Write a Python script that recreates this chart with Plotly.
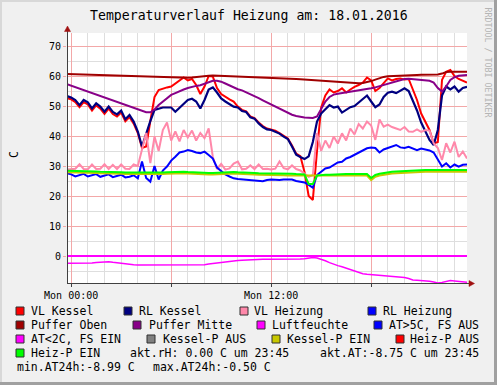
import plotly.graph_objects as go
import pandas as pd

# ---------------- data (15-minute samples, 17.01.2016 23:45 .. 18.01.2016 23:45) -------------
TIMES = pd.date_range("2016-01-17 23:45", periods=97, freq="15min")

VL_KESSEL = [
    52.6, 52.2, 51.3, 49.6, 51.3, 50.5, 48.5, 50.2, 49.1, 47.4,
    49.1, 47.3, 46.5, 47.8, 44.9, 46.3, 44.1, 41.0, 36.0, 36.5,
    45.0, 53.0, 55.3, 55.8, 56.2, 56.5, 57.5, 58.5, 59.5, 58.5,
    59.0, 57.0, 54.0, 56.5, 60.0, 59.8, 56.0, 54.0, 53.0, 52.2,
    51.5, 49.8, 48.7, 48.2, 46.5, 46.0, 44.5, 43.3, 42.5, 42.2,
    41.8, 41.0, 40.1, 39.2, 36.8, 34.1, 33.3, 28.0, 20.0, 18.7,
    35.0, 49.5, 53.5, 55.5, 54.5, 55.0, 55.9, 54.5, 55.5, 56.4,
    57.0, 57.8, 59.5, 58.5, 55.0, 56.0, 57.6, 59.2, 58.5, 59.0,
    59.2, 58.8, 59.0, 55.5, 52.0, 47.5, 44.5, 42.0, 37.5, 38.0,
    58.7, 61.4, 62.0, 60.0, 59.0, 58.3, 57.8,
]
RL_KESSEL = [
    53.3, 52.8, 52.0, 50.3, 52.0, 51.2, 49.2, 50.9, 49.8, 48.1,
    49.8, 48.0, 47.2, 48.5, 45.6, 47.0, 44.8, 41.5, 36.5, 41.0,
    45.0, 48.7, 49.2, 49.5, 49.5, 49.5, 48.1, 49.5, 50.9, 52.0,
    52.4, 51.5, 49.2, 52.0, 55.5, 56.2, 54.5, 52.5, 51.5, 50.7,
    49.8, 49.5, 48.3, 48.0, 46.2, 45.8, 44.2, 43.0, 42.2, 42.0,
    41.5, 40.8, 39.8, 39.0, 36.5, 33.8, 33.0, 32.3, 33.2, 38.0,
    44.8, 47.5, 48.9, 50.3, 49.5, 49.8, 47.8, 48.7, 49.6, 50.0,
    51.2, 52.3, 53.5, 51.5, 49.6, 50.5, 53.0, 54.4, 54.8, 54.3,
    55.2, 55.9, 55.0, 52.0, 48.5, 44.5, 41.5, 38.7, 37.0, 42.0,
    53.5, 56.5, 55.5, 56.5, 54.8, 56.0, 56.4,
]
VL_HEIZUNG = [
    28.8, 28.9, 29.1, 30.6, 29.0, 28.9, 30.5, 29.0, 29.1, 30.6,
    29.0, 30.4, 29.0, 30.5, 29.1, 29.0, 30.5, 30.0, 36.0, 41.0,
    31.0, 39.8, 35.0, 42.0, 44.5, 38.5, 41.5, 38.2, 42.0, 39.5,
    41.8, 38.5, 41.0, 39.3, 42.5, 33.0, 29.0, 30.7, 28.8, 29.2,
    30.8, 31.5, 28.9, 29.1, 30.2, 29.0, 30.5, 29.0, 29.1, 28.8,
    29.1, 31.5, 29.3, 28.9, 30.2, 29.0, 28.5, 27.5, 26.4, 27.0,
    41.0, 35.0, 38.5, 36.0, 39.8, 37.5, 40.9, 38.5, 42.5, 40.5,
    44.0, 42.5, 44.8, 43.5, 38.7, 45.5, 43.1, 43.8, 43.0, 42.5,
    42.0, 43.0, 41.5, 41.4, 42.2, 41.4, 42.0, 41.8, 37.6, 36.0,
    32.0, 37.6, 34.5, 38.1, 33.0, 34.8, 32.5,
]
RL_HEIZUNG = [
    27.6, 27.2, 26.5, 27.0, 27.4, 26.5, 26.8, 27.3, 26.4, 26.7,
    27.2, 26.3, 26.6, 27.1, 26.2, 26.4, 26.9, 25.9, 31.5, 26.0,
    24.8, 30.0, 25.5, 28.5, 29.8, 31.8, 33.1, 34.5, 34.8, 35.3,
    35.0, 34.5, 34.3, 34.8, 33.7, 32.5, 29.5, 28.2, 27.2, 26.5,
    25.9, 25.7, 25.6, 25.3, 25.4, 25.2, 25.0, 24.9, 25.3, 25.5,
    25.4, 25.3, 25.5, 25.6, 25.5, 25.0, 24.8, 24.5, 23.7, 22.8,
    27.0, 28.2, 29.2, 29.5, 30.3, 31.2, 31.4, 32.5, 33.0, 33.7,
    34.5, 35.0, 35.9, 36.2, 36.0, 34.5, 35.5, 36.0, 36.5, 37.0,
    36.2, 36.0, 36.4, 35.8, 35.3, 35.8, 35.5, 35.2, 34.5, 32.0,
    29.8, 30.9, 29.5, 30.5, 29.8, 30.4, 30.5,
]
PUFFER_OBEN = [
    60.7, 60.65, 60.6, 60.55, 60.5, 60.45, 60.4, 60.35, 60.3, 60.25,
    60.2, 60.15, 60.1, 60.05, 60.0, 59.95, 59.9, 59.85, 59.8, 59.75,
    59.7, 59.65, 59.6, 59.55, 59.5, 59.45, 59.4, 59.35, 59.3, 59.4,
    59.5, 59.7, 59.9, 60.0, 60.1, 60.2, 60.15, 60.1, 60.05, 60.0,
    59.95, 59.9, 59.85, 59.8, 59.75, 59.7, 59.65, 59.6, 59.55, 59.5,
    59.45, 59.4, 59.3, 59.2, 59.1, 59.0, 58.9, 58.8, 58.7, 58.6,
    58.5, 58.45, 58.4, 58.3, 58.2, 58.1, 58.0, 57.9, 57.8, 57.7,
    57.6, 57.7, 57.9, 58.3, 58.8, 59.3, 59.7, 59.9, 60.0, 60.1,
    60.2, 60.25, 60.3, 60.3, 60.35, 60.4, 60.4, 60.45, 60.5, 60.5,
    60.8, 61.3, 61.4, 61.4, 61.4, 61.4, 61.4,
]
PUFFER_MITTE = [
    57.3, 56.8, 56.3, 55.8, 55.3, 54.9, 54.4, 53.9, 53.4, 52.9,
    52.4, 51.9, 51.4, 50.9, 50.4, 49.9, 49.4, 48.9, 48.3, 47.9,
    47.9, 48.8, 50.3, 51.5, 52.6, 53.7, 54.3, 55.0, 55.5, 56.0,
    56.4, 56.7, 56.9, 57.4, 58.0, 58.4, 58.4, 58.1, 57.5, 56.8,
    56.1, 55.6, 55.2, 54.6, 54.0, 53.3, 52.6, 51.9, 51.2, 50.5,
    49.7, 49.1, 48.4, 47.7, 47.1, 46.7, 46.4, 46.2, 46.1, 46.0,
    46.5, 49.0, 51.5, 53.0, 53.8, 54.1, 54.3, 54.5, 54.7, 54.9,
    55.1, 55.4, 55.6, 55.9, 56.2, 56.6, 56.9, 57.3, 57.8, 58.3,
    58.7, 59.0, 59.1, 59.0, 58.9, 58.8, 58.6, 58.4, 57.8, 56.0,
    54.8, 56.5, 58.7, 59.6, 60.1, 60.3, 60.3,
]
LUFTFEUCHTE = [
    0.0, 0.0, 0.0, 0.0, 0.0, 0.0, 0.0, 0.0, 0.0, 0.0,
    0.0, 0.0, 0.0, 0.0, 0.0, 0.0, 0.0, 0.0, 0.0, 0.0,
    0.0, 0.0, 0.0, 0.0, 0.0, 0.0, 0.0, 0.0, 0.0, 0.0,
    0.0, 0.0, 0.0, 0.0, 0.0, 0.0, 0.0, 0.0, 0.0, 0.0,
    0.0, 0.0, 0.0, 0.0, 0.0, 0.0, 0.0, 0.0, 0.0, 0.0,
    0.0, 0.0, 0.0, 0.0, 0.0, 0.0, 0.0, 0.0, 0.0, 0.0,
    0.0, 0.0, 0.0, 0.0, 0.0, 0.0, 0.0, 0.0, 0.0, 0.0,
    0.0, 0.0, 0.0, 0.0, 0.0, 0.0, 0.0, 0.0, 0.0, 0.0,
    0.0, 0.0, 0.0, 0.0, 0.0, 0.0, 0.0, 0.0, 0.0, 0.0,
    0.0, 0.0, 0.0, 0.0, 0.0, 0.0, 0.0,
]
AUSSEN_TEMP = [
    -2.4, -2.4, -2.5, -2.4, -2.3, -2.3, -2.3, -2.2, -2.1, -2.0,
    -1.9, -2.1, -2.3, -2.4, -2.6, -2.8, -2.9, -3.0, -3.0, -2.9,
    -2.9, -2.8, -2.8, -2.8, -2.8, -2.8, -2.8, -2.9, -2.9, -3.0,
    -3.0, -3.0, -3.0, -2.9, -2.7, -2.5, -2.4, -2.3, -2.1, -1.9,
    -1.7, -1.5, -1.4, -1.3, -1.3, -1.2, -1.2, -1.1, -1.1, -1.1,
    -1.1, -1.2, -1.2, -1.1, -1.1, -1.0, -1.0, -0.9, -0.6, -0.5,
    -0.7, -1.1, -1.6, -2.2, -2.8, -3.2, -3.6, -4.1, -4.6, -5.1,
    -5.6, -5.9, -6.1, -6.2, -6.3, -6.4, -6.5, -6.6, -6.7, -6.8,
    -7.0, -7.2, -7.5, -8.0, -8.1, -8.2, -8.2, -8.4, -8.7, -8.99,
    -8.8, -8.4, -8.2, -8.3, -8.5, -8.6, -8.75,
]
KESSEL_P_EIN = [
    27.9, 27.9, 27.9, 27.8, 27.8, 27.8, 27.7, 27.7, 27.6, 27.6,
    27.5, 27.5, 27.4, 27.4, 27.3, 27.3, 27.3, 27.2, 27.2, 27.1,
    27.1, 27.1, 27.2, 27.3, 27.4, 27.5, 27.6, 27.6, 27.6, 27.5,
    27.4, 27.3, 27.2, 27.2, 27.2, 27.2, 27.3, 27.4, 27.5, 27.5,
    27.5, 27.4, 27.4, 27.3, 27.3, 27.2, 27.1, 27.1, 27.0, 27.0,
    26.9, 26.9, 26.9, 26.8, 26.8, 26.7, 26.7, 26.7, 26.7, 26.7,
    26.6, 26.6, 26.6, 26.6, 26.7, 26.7, 26.7, 26.8, 26.8, 26.8,
    26.8, 26.8, 26.8, 25.3, 26.4, 26.8, 27.1, 27.3, 27.5, 27.6,
    27.7, 27.8, 27.9, 28.0, 28.0, 28.1, 28.1, 28.1, 28.1, 28.1,
    28.2, 28.2, 28.2, 28.1, 28.1, 28.1, 28.1,
]
HEIZ_P_EIN = [
    28.4, 28.4, 28.4, 28.4, 28.3, 28.3, 28.2, 28.2, 28.1, 28.1,
    28.0, 28.0, 27.9, 27.9, 27.8, 27.8, 27.8, 27.7, 27.7, 27.6,
    27.6, 27.6, 27.7, 27.8, 27.9, 28.0, 28.1, 28.1, 28.1, 28.0,
    27.9, 27.8, 27.7, 27.7, 27.7, 27.7, 27.8, 27.9, 28.0, 28.0,
    28.0, 27.9, 27.9, 27.8, 27.8, 27.7, 27.6, 27.6, 27.5, 27.5,
    27.5, 27.5, 27.5, 27.4, 27.4, 27.3, 27.3, 27.2, 24.0, 24.0,
    26.8, 27.0, 27.1, 27.1, 27.2, 27.2, 27.2, 27.3, 27.3, 27.3,
    27.3, 27.3, 27.3, 26.0, 27.0, 27.4, 27.7, 27.9, 28.1, 28.2,
    28.3, 28.4, 28.5, 28.6, 28.6, 28.7, 28.7, 28.7, 28.7, 28.7,
    28.8, 28.8, 28.8, 28.7, 28.7, 28.7, 28.7,
]

TICK_VALS = ["2016-01-18 00:00", "2016-01-18 06:00", "2016-01-18 12:00", "2016-01-18 18:00"]
TICK_TEXT = ["Mon 00:00", "", "Mon 12:00", ""]
Y_RANGE = [-9, 74.333]

TITLE = "Temperaturverlauf Heizung am: 18.01.2016"
LEGEND_ROWS = [
    [("VL Kessel", "#ff0000", 16, 30), ("RL Kessel", "#000080", 124, 138),
     ("VL Heizung", "#ff88aa", 240, 253), ("RL Heizung", "#0000ff", 368, 382)],
    [("Puffer Oben", "#a00000", 16, 30), ("Puffer Mitte", "#880088", 133, 148),
     ("Luftfeuchte", "#ff00ff", 257, 271), ("AT>5C, FS AUS", "#0000ff", 374, 388)],
    [("AT<2C, FS EIN", "#ff00ff", 16, 30), ("Kessel-P AUS", "#808080", 147, 162),
     ("Kessel-P EIN", "#c8c800", 272, 286), ("Heiz-P AUS", "#ff0000", 396, 409)],
    [("Heiz-P EIN", "#00ff00", 16, 30)],
]
LEGEND_TEXTS = [
    ("akt.rH: 0.00 C um 23:45", 129, 353),
    ("akt.AT:-8.75 C um 23:45", 319, 353),
    ("min.AT24h:-8.99 C", 16, 367),
    ("max.AT24h:-0.50 C", 152, 367),
]
ROW_Y = [311, 325, 339, 353]

# ---------------- geometry ----------------
W, H = 497, 385
L, R, T, B = 67, 467, 33, 283
FONT = "DejaVu Sans Mono"
GRID = "#dedede"
MGRID = "#f3a8a8"


def px(x):
    return (x - L) / (R - L)


def py(y):
    return (B - y) / (B - T)


fig = go.Figure()

traces = [
    (VL_KESSEL, "#ff0000", 2.0),
    (RL_KESSEL, "#000080", 2.2),
    (VL_HEIZUNG, "#ff88aa", 2.0),
    (RL_HEIZUNG, "#0000ff", 2.0),
    (PUFFER_OBEN, "#a00000", 2.0),
    (PUFFER_MITTE, "#880088", 2.0),
    (LUFTFEUCHTE, "#ff00ff", 2.0),
    (AUSSEN_TEMP, "#ff00ff", 1.5),
    (KESSEL_P_EIN, "#c8c800", 2.0),
    (HEIZ_P_EIN, "#00ff00", 2.0),
]
for vals, col, w in traces:
    fig.add_trace(go.Scatter(x=TIMES, y=vals, mode="lines",
                             line=dict(color=col, width=w),
                             showlegend=False, hoverinfo="skip"))

shapes = []
annotations = []

# canvas shading border (below everything else)
for x0, x1, y0, y1, col in [
    (0, 2, 0, H, "#d8d8d8"), (0, W, 0, 2, "#d8d8d8"),
    (W - 3, W, 0, H, "#a0a0a0"), (0, W, H - 3, H, "#a0a0a0"),
]:
    shapes.append(dict(type="rect", xref="paper", yref="paper",
                       x0=px(x0), x1=px(x1), y0=py(y0), y1=py(y1),
                       fillcolor=col, line_width=0, layer="below"))

# axis lines and arrows
AX = "#404040"
ARROW = "#a01010"
shapes.append(dict(type="line", xref="paper", yref="paper",
                   x0=px(67.5), x1=px(67.5), y0=py(283), y1=py(30),
                   line=dict(color=AX, width=1), layer="above"))
shapes.append(dict(type="line", xref="paper", yref="paper",
                   x0=px(67), x1=px(471), y0=py(283.5), y1=py(283.5),
                   line=dict(color=AX, width=1), layer="above"))
shapes.append(dict(type="path", xref="paper", yref="paper",
                   path=f"M {px(64.5)} {py(31.5)} L {px(70.5)} {py(31.5)} L {px(67.5)} {py(26)} Z",
                   fillcolor=ARROW, line=dict(color=ARROW, width=0.5), layer="above"))
shapes.append(dict(type="path", xref="paper", yref="paper",
                   path=f"M {px(469)} {py(280.5)} L {px(469)} {py(286.5)} L {px(474.5)} {py(283.5)} Z",
                   fillcolor=ARROW, line=dict(color=ARROW, width=0.5), layer="above"))

# legend
LFS = 11.5
for row, yc in zip(LEGEND_ROWS, ROW_Y):
    for name, col, sx, tx in row:
        shapes.append(dict(type="rect", xref="paper", yref="paper",
                           x0=px(sx), x1=px(sx + 8), y0=py(yc - 4), y1=py(yc + 4),
                           fillcolor=col, line=dict(color="#303030", width=1)))
        annotations.append(dict(text=name, x=px(tx - 1), y=py(yc), xref="paper", yref="paper",
                                xanchor="left", yanchor="middle", showarrow=False,
                                font=dict(family=FONT, size=LFS, color="#000")))
for txt, tx, yc in LEGEND_TEXTS:
    annotations.append(dict(text=txt, x=px(tx - 1), y=py(yc), xref="paper", yref="paper",
                            xanchor="left", yanchor="middle", showarrow=False,
                            font=dict(family=FONT, size=LFS, color="#000")))

# title, y label, watermark
annotations.append(dict(text=TITLE, x=px(249), y=py(16), xref="paper", yref="paper",
                        xanchor="center", yanchor="middle", showarrow=False,
                        font=dict(family=FONT, size=13.2, color="#000")))
annotations.append(dict(text="C", x=px(14), y=py(155), xref="paper", yref="paper",
                        xanchor="center", yanchor="middle", showarrow=False, textangle=-90,
                        font=dict(family=FONT, size=11.5, color="#000")))
annotations.append(dict(text="RRDTOOL / TOBI OETIKER", x=px(487.5), y=py(62), xref="paper", yref="paper",
                        xanchor="center", yanchor="middle", showarrow=False, textangle=90,
                        font=dict(family=FONT, size=8.3, color="#b4b4b4")))

fig.update_layout(
    width=W, height=H,
    margin=dict(l=L, r=W - R, t=T, b=H - B, pad=0),
    paper_bgcolor="#f0f0f0", plot_bgcolor="#ffffff",
    showlegend=False,
    font=dict(family=FONT, size=10, color="#000"),
    shapes=shapes, annotations=annotations,
)
fig.update_xaxes(
    type="date", range=[TIMES[0], TIMES[-1]],
    tickmode="array", tickvals=TICK_VALS, ticktext=TICK_TEXT,
    showgrid=True, gridcolor=MGRID, gridwidth=1,
    minor=dict(dtick=3600000, tick0="2016-01-18 00:00", showgrid=True, gridcolor=GRID, gridwidth=1),
    ticks="outside", ticklen=3, tickcolor=AX,
    tickfont=dict(family=FONT, size=10, color="#000"),
    showline=False, zeroline=False, fixedrange=True,
)
fig.update_yaxes(
    range=Y_RANGE, tick0=0, dtick=10,
    showgrid=True, gridcolor=MGRID, gridwidth=1,
    minor=dict(dtick=5, tick0=0, showgrid=True, gridcolor=GRID, gridwidth=1),
    ticks="outside", ticklen=3, tickcolor=MGRID,
    tickfont=dict(family=FONT, size=10, color="#000"),
    showline=False, zeroline=False, fixedrange=True,
)

fig.write_html("out.html", config={"displayModeBar": False},
               post_script="document.body.style.margin='0';document.body.style.overflow='hidden';")
